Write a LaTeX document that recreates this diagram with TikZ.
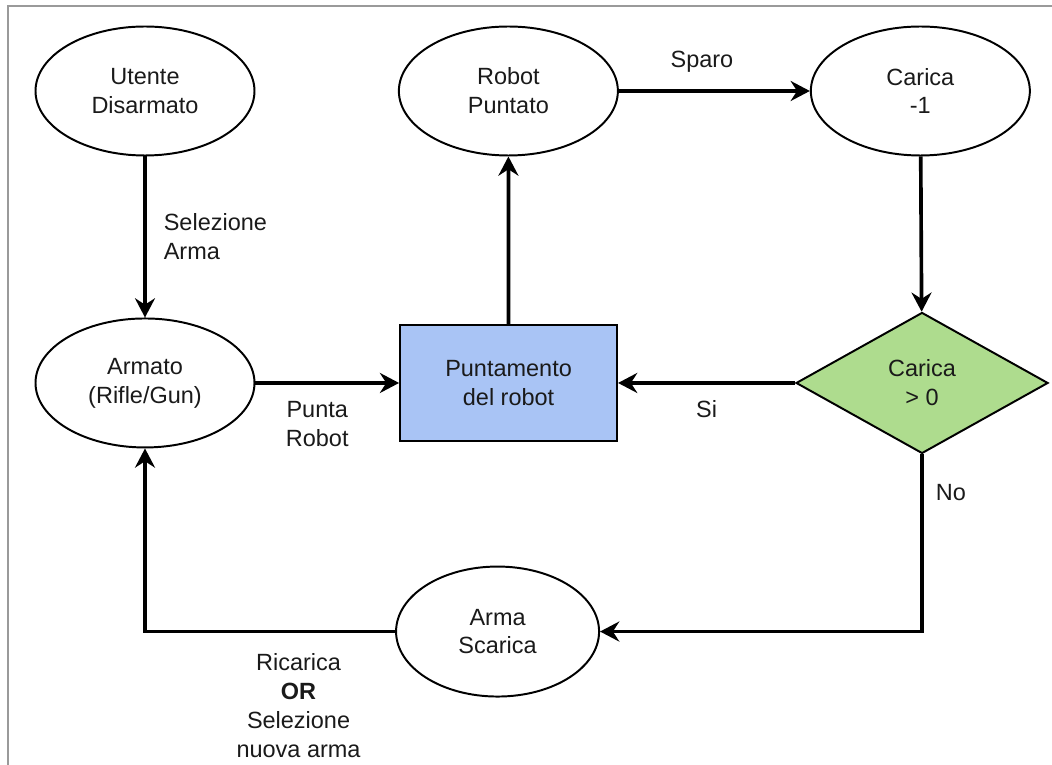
\documentclass[tikz,border=0pt]{standalone}
\usepackage{fontspec}
\setmainfont{Liberation Sans}
\usepackage{tikz}
\usetikzlibrary{arrows.meta,positioning,shapes.geometric}
\definecolor{flowInk}{HTML}{1A1A1A}
\definecolor{flowBlue}{HTML}{A9C4F5}
\definecolor{flowGreen}{HTML}{AEDC8E}
\definecolor{flowFrame}{HTML}{9A9A9A}

\begin{document}
\begin{tikzpicture}[
  x=0.25mm, y=0.25mm,
  font=\fontsize{16.7}{20.6}\selectfont,
  state/.style={ellipse, draw=black, line width=1.4pt, minimum width=54.75mm, minimum height=32.25mm, inner sep=0pt, align=center, text=flowInk},
  action/.style={rectangle, draw=black, line width=1.4pt, fill=flowBlue, minimum width=54.25mm, minimum height=29mm, align=center, text=flowInk},
  check/.style={diamond, draw=black, line width=1.4pt, fill=flowGreen, minimum width=63mm, minimum height=35.25mm, inner sep=0pt, align=center, text=flowInk},
  arrow/.style={-{Stealth[length=4.8mm, width=5mm, inset=1.6mm]}, line width=2.6pt, draw=black},
  note/.style={align=center, text=flowInk, inner sep=0pt}
]
  \useasboundingbox (0,0) rectangle (1052,-765);
  \draw[flowFrame, line width=2.1pt] (8,-765) -- (8,-6) -- (1052,-6);

  \node[state] (utente) at (145,-91) {Utente\\Disarmato};
  \node[state, right=35.6mm of utente] (puntato) {Robot\\Puntato};
  \node[state, right=47.75mm of puntato] (scala) {Carica\\-1};
  \node[state, below=40.25mm of utente] (armato) {Armato\\(Rifle/Gun)};
  \node[action, right=35.9mm of armato] (mira) {Puntamento\\del robot};
  \node[check, right=44.25mm of mira] (test) {Carica\\> 0};
  \node[state, below=30.9mm of mira, xshift=-2.75mm, minimum width=50.75mm, minimum height=32.5mm] (scarica) {Arma\\Scarica};

  \draw[arrow] (utente) -- node[note, right=4.25mm, align=left]{Selezione\\Arma} (armato);
  \draw[arrow] (puntato) -- node[note, above=4.25mm, pos=0.435]{Sparo} (scala);
  \draw[arrow] (mira) -- (puntato);
  \draw[arrow] (scala) -- (test);
  \draw[arrow] (test) -- node[note, below=4mm]{Si} (mira);
  \draw[arrow] (armato) -- node[note, below=4.1mm, pos=0.43]{Punta\\Robot} (mira);
  \draw[arrow] (test) |- node[note, right=3mm, pos=0.107]{No} (scarica);
  \draw[arrow] (scarica) -| node[note, below=5mm, pos=0.193]{Ricarica\\\textbf{OR}\\Selezione\\nuova arma} (armato);
\end{tikzpicture}
\end{document}
